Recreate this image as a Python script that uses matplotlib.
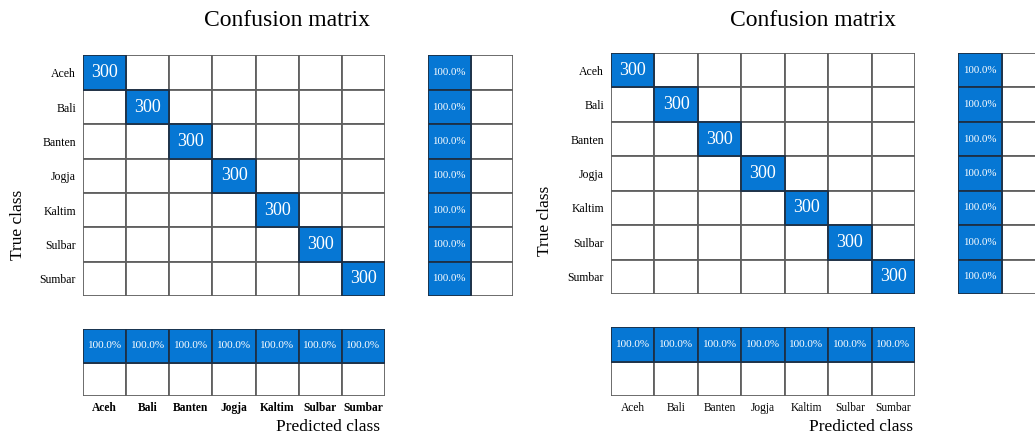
import numpy as np
import matplotlib
matplotlib.use("Agg")
import matplotlib.pyplot as plt
from matplotlib.patches import Rectangle

plt.rcParams['font.family'] = ['Liberation Serif', 'DejaVu Serif']

classes = ['Aceh', 'Bali', 'Banten', 'Jogja', 'Kaltim', 'Sulbar', 'Sumbar']
correct_counts = [300, 300, 300, 300, 300, 300, 300]

W, H = 1035, 436
BLUE = '#0677d4'
GRID = '#606060'
EDGE_DARK = '#1d2f45'

# confusion matrix: everything on the diagonal
cm = np.zeros((len(classes), len(classes)), dtype=int)
for k, c in enumerate(correct_counts):
    cm[k, k] = c

recall = cm.diagonal() / cm.sum(axis=1) * 100      # per true class
precision = cm.diagonal() / cm.sum(axis=0) * 100   # per predicted class

fig = plt.figure(figsize=(W / 100, H / 100), dpi=100)


def px_axes(x0, y0, x1, y1):
    # axes from pixel box (top-left origin)
    return fig.add_axes([x0 / W, 1 - y1 / H, (x1 - x0) / W, (y1 - y0) / H])


def draw_cells(ax, fill, labels, fontsize):
    nr, nc = fill.shape
    for i in range(nr):
        for j in range(nc):
            if fill[i, j]:
                ax.add_patch(Rectangle((j, i), 1, 1, facecolor=BLUE,
                                       edgecolor=EDGE_DARK, lw=1.3, zorder=2))
                ax.text(j + 0.5, i + 0.5, labels[i][j], color='white',
                        ha='center', va='center', fontsize=fontsize, zorder=3)
            else:
                ax.add_patch(Rectangle((j, i), 1, 1, facecolor='white',
                                       edgecolor=GRID, lw=1.3, zorder=1))
    ax.set_xlim(0, nc)
    ax.set_ylim(nr, 0)
    for s in ax.spines.values():
        s.set_visible(False)
    ax.set_xticks([])
    ax.set_yticks([])


def draw_panel(mx0, mx1, my0, my1, sx0, sx1, cy0, cy1, bold_x):
    n = len(classes)

    ax = px_axes(mx0, my0, mx1, my1)
    lbl = [[str(cm[i, j]) for j in range(n)] for i in range(n)]
    draw_cells(ax, cm > 0, lbl, 13)
    ax.set_yticks(np.arange(n) + 0.5)
    ax.set_yticklabels(classes, fontsize=8.5)
    ax.tick_params(axis='y', length=0, pad=5)

    # row summary (true class)
    axr = px_axes(sx0, my0, sx1, my1)
    row_vals = np.column_stack([recall, 100 - recall])
    row_lbl = [['%.1f%%' % v if v > 0 else '' for v in r] for r in row_vals]
    draw_cells(axr, row_vals > 0, row_lbl, 7.8)

    # column summary (predicted class)
    axc = px_axes(mx0, cy0, mx1, cy1)
    col_vals = np.vstack([precision, 100 - precision])
    col_lbl = [['%.1f%%' % v if v > 0 else '' for v in r] for r in col_vals]
    draw_cells(axc, col_vals > 0, col_lbl, 8)
    axc.set_xticks(np.arange(n) + 0.5)
    axc.set_xticklabels(classes, fontsize=8.3,
                        fontweight='bold' if bold_x else 'normal')
    axc.tick_params(axis='x', length=0, pad=4)


# left panel
draw_panel(83, 385, 55.5, 296, 428, 513, 329, 396, bold_x=True)
fig.text(287 / W, 1 - 20 / H, 'Confusion matrix', fontsize=17,
         ha='center', va='center')
fig.text(18 / W, 1 - 225 / H, 'True class', fontsize=12.5, rotation=90,
         ha='center', va='center')
fig.text(328 / W, 1 - 427 / H, 'Predicted class', fontsize=12.5,
         ha='center', va='center')

# right panel
draw_panel(611, 915, 53, 294, 958, 1045, 327, 396, bold_x=False)
fig.text(813 / W, 1 - 20 / H, 'Confusion matrix', fontsize=17,
         ha='center', va='center')
fig.text(545 / W, 1 - 221 / H, 'True class', fontsize=12.5, rotation=90,
         ha='center', va='center')
fig.text(861 / W, 1 - 427 / H, 'Predicted class', fontsize=12.5,
         ha='center', va='center')

fig.savefig('out.png', dpi=100)
